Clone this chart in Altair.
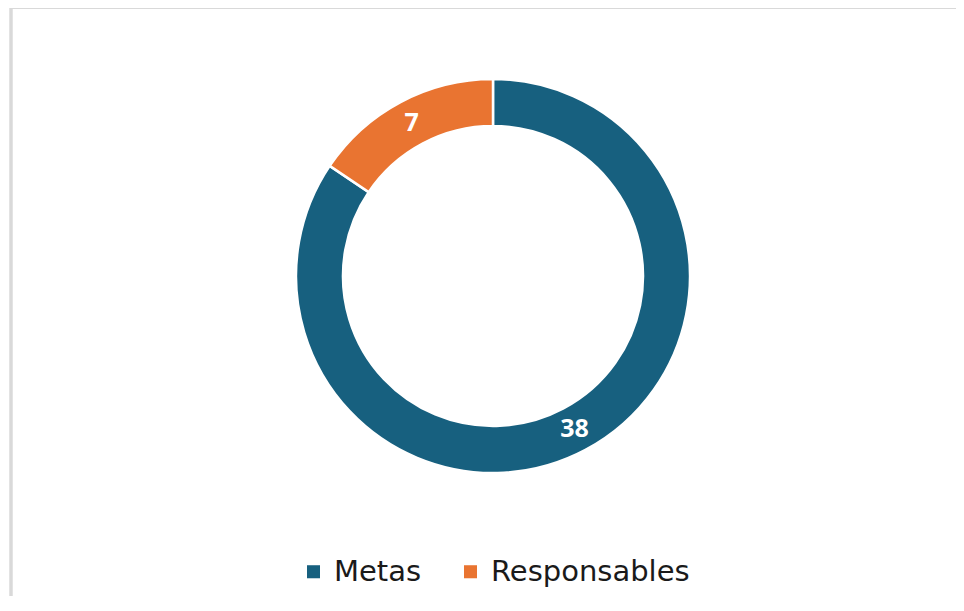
import altair as alt
import pandas as pd

categories = ["Metas", "Responsables"]
values = [38, 7]
order = [1, 2]
palette = ["#17607F", "#E97431"]

df = pd.DataFrame({"cat": categories, "val": values, "ord": order})

CX, CY = 481, 264  # plot coordinates of the donut centre
R_OUT, R_IN = 197, 150

base = alt.Chart(df).encode(
    theta=alt.Theta("val:Q", stack=True),
    order=alt.Order("ord:Q"),
)

arcs = base.mark_arc(
    x=CX, y=CY, outerRadius=R_OUT, innerRadius=R_IN,
    stroke="white", strokeWidth=2.5,
).encode(
    color=alt.Color(
        "cat:N",
        scale=alt.Scale(domain=categories, range=palette),
        legend=alt.Legend(
            title=None,
            orient="none",
            direction="horizontal",
            legendX=287,
            legendY=545,
            symbolType="square",
            symbolSize=170,
            symbolStrokeWidth=0,
            labelFont="DejaVu Sans",
            labelFontSize=29,
            labelColor="#1a1a1a",
            labelOffset=6,
            labelLimit=0,
            columnPadding=34,
        ),
    )
)

labels = base.mark_text(
    x=CX, y=CY, radius=(R_OUT + R_IN) / 2,
    font="Open Sans", fontWeight="bold", fontSize=25, color="white",
    align="center", baseline="middle",
).encode(text=alt.Text("val:Q"))

frame_top = alt.Chart(df).mark_rule(color="#D9D9D9", strokeWidth=3).encode(
    x=alt.value(-1), x2=alt.value(2000), y=alt.value(-4.5), y2=alt.value(-4.5)
)
frame_left = alt.Chart(df).mark_rule(color="#D9D9D9", strokeWidth=3).encode(
    x=alt.value(-1), x2=alt.value(-1), y=alt.value(-4.5), y2=alt.value(2000)
)

chart = alt.layer(frame_top, frame_left, arcs, labels).properties(
    width=944,
    height=584,
    padding={"left": 4, "top": 4, "right": 0, "bottom": 0},
    autosize=alt.AutoSizeParams(type="none"),
    background="white",
).configure_view(stroke=None)

chart.save("out.html", embed_options={"renderer": "svg", "actions": False})
